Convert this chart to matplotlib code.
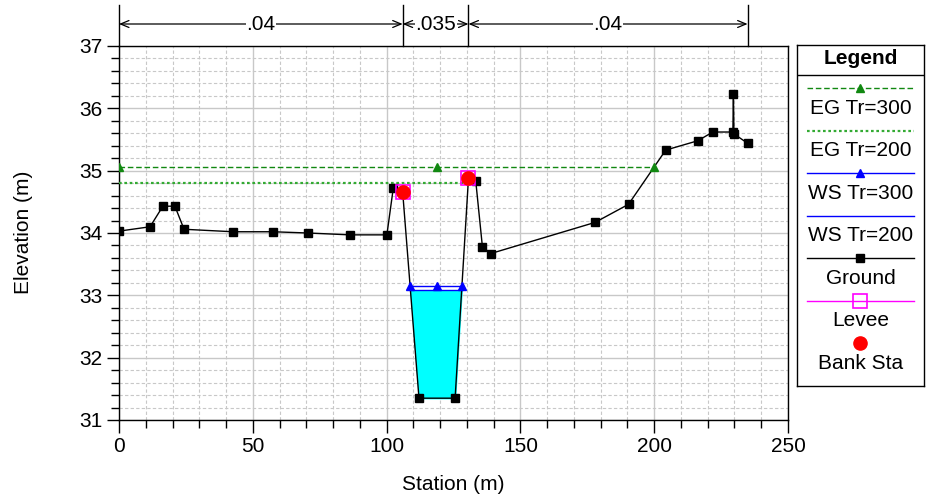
#!/usr/bin/env python3
"""Cross section plot: ground, levees, bank stations, WS / EG profiles."""

import numpy as np
import matplotlib

matplotlib.use("Agg")
import matplotlib.pyplot as plt
from matplotlib.ticker import MultipleLocator
from matplotlib.transforms import blended_transform_factory

plt.rcParams["font.family"] = ["Liberation Sans", "DejaVu Sans"]

# --- data ---------------------------------------------------------------
ground_sta  = [0.0, 11.6, 16.4, 20.9, 24.3, 42.6, 57.5, 70.6, 86.3, 100.1,
               102.5, 106.0, 112.1, 125.6, 130.6, 133.3, 135.8, 138.9,
               177.9, 190.4, 204.3, 216.3, 221.9, 229.4, 229.6, 229.8, 234.9]
ground_elev = [34.03, 34.10, 34.43, 34.43, 34.06, 34.02, 34.02, 34.00, 33.97,
               33.97, 34.72, 34.66, 31.35, 31.35, 34.88, 34.84, 33.78, 33.67,
               34.17, 34.46, 35.33, 35.48, 35.62, 35.62, 36.23, 35.59, 35.44]

bank_sta    = [106.0, 130.6]
bank_elev   = [34.66, 34.88]
levee_sta   = [106.0, 130.6]
levee_elev  = [34.66, 34.88]

ws_300 = 33.15
ws_200 = 33.08
eg_300 = 35.06
eg_200 = 34.80
mid_sta = 119.0          # profile marker station in main channel

n_values = [".04", ".035", ".04"]

FS = 15

# --- helpers --------------------------------------------------------------
gx = np.array(ground_sta)
gy = np.array(ground_elev)


def wet_limits(level, start=mid_sta):
    """Stations where ground rises above `level` left/right of `start`."""
    i = np.searchsorted(gx, start)
    left, right = gx[0], gx[-1]
    for j in range(i - 1, 0, -1):
        if gy[j - 1] >= level > gy[j] or gy[j - 1] > level >= gy[j]:
            left = gx[j - 1] + (level - gy[j - 1]) / (gy[j] - gy[j - 1]) * (gx[j] - gx[j - 1])
            break
    for j in range(i, len(gx)):
        if gy[j - 1] < level <= gy[j]:
            right = gx[j - 1] + (level - gy[j - 1]) / (gy[j] - gy[j - 1]) * (gx[j] - gx[j - 1])
            break
    return left, right


fig = plt.figure(figsize=(9.28, 4.99), dpi=100)
ax = fig.add_axes([119 / 928, 79 / 499, 669 / 928, 374 / 499])

# grid
ax.set_xlim(0, 250)
ax.set_ylim(31, 37)
ax.xaxis.set_major_locator(MultipleLocator(50))
ax.xaxis.set_minor_locator(MultipleLocator(10))
ax.yaxis.set_major_locator(MultipleLocator(1))
ax.yaxis.set_minor_locator(MultipleLocator(0.2))
ax.grid(which="major", color="#c8c8c8", lw=1.0, ls="-")
ax.grid(which="minor", color="#c8c8c8", lw=0.8, ls=(0, (3, 2)))
ax.set_axisbelow(True)
ax.tick_params(which="major", direction="out", length=9, width=1, labelsize=FS, pad=3)
ax.tick_params(which="minor", direction="out", length=6, width=1)
ax.tick_params(top=False, right=False, which="both")

# water fill under WS Tr=200
xl, xr = wet_limits(ws_200)
xs = np.linspace(xl, xr, 2000)
ys = np.interp(xs, gx, gy)
ax.fill_between(xs, ys, ws_200, where=ys <= ws_200, color="#00ffff", zorder=2)

# energy grade lines
l3, r3 = wet_limits(eg_300)
ax.plot([l3, r3], [eg_300, eg_300], color="#118811", lw=1.0, ls=(0, (4, 2)), zorder=3)
ax.plot([l3, mid_sta, r3], [eg_300] * 3, ls="none", marker="^", ms=6,
        color="#118811", zorder=6)
l2, r2 = wet_limits(eg_200)
ax.plot([l2, r2], [eg_200, eg_200], color="#33aa33", lw=1.6, ls=(0, (1.2, 1.2)), zorder=3)

# water surfaces
l3, r3 = wet_limits(ws_300)
ax.plot([l3, r3], [ws_300, ws_300], color="#0000ff", lw=1.0, zorder=4)
ax.plot([l3, mid_sta, r3], [ws_300] * 3, ls="none", marker="^", ms=6,
        color="#0000ff", zorder=6)
ax.plot([xl, xr], [ws_200, ws_200], color="#0000ff", lw=1.0, zorder=4)

# ground, levees, bank stations
ax.plot(ground_sta, ground_elev, color="black", lw=1.0, marker="s", ms=5.3,
        zorder=5)
ax.plot(levee_sta, levee_elev, ls="none", marker="s", ms=10, mfc="none",
        mec="#ff00ff", mew=1.2, zorder=6)
ax.plot(bank_sta, bank_elev, ls="none", marker="o", ms=9.5, color="#ff0000",
        zorder=7)

for s in ax.spines.values():
    s.set_linewidth(1.0)

fig.text(24 / 928, 1 - 232 / 499, "Elevation (m)", rotation=90,
         ha="center", va="center", fontsize=FS)
fig.text(453.5 / 928, 1 - 485 / 499, "Station (m)", ha="center", va="center",
         fontsize=FS)

# Manning's n breaks above the plot
breaks = [ground_sta[0], bank_sta[0], bank_sta[1], ground_sta[-1]]
tr = blended_transform_factory(ax.transData, ax.transAxes)
for b in breaks:
    ax.plot([b, b], [1.0, 1.11], color="black", lw=1.0, transform=tr, clip_on=False)
y_arr = 1 + 22 / 374
for a, b, n in zip(breaks[:-1], breaks[1:], n_values):
    ax.annotate("", xy=(a, y_arr), xytext=(b, y_arr), xycoords=tr, textcoords=tr,
                arrowprops=dict(arrowstyle="<->,head_length=0.6,head_width=0.25",
                                color="black", lw=0.9, shrinkA=0, shrinkB=0))
    ax.text((a + b) / 2, y_arr, n, transform=tr, ha="center", va="center",
            fontsize=FS, bbox=dict(fc="white", ec="none", pad=0.5), zorder=10)

# legend panel
lg = fig.add_axes([797 / 928, 113 / 499, 127 / 928, 341 / 499])
lg.set_xlim(0, 127)
lg.set_ylim(341, 0)
lg.set_xticks([])
lg.set_yticks([])
for s in lg.spines.values():
    s.set_linewidth(1.0)
lg.text(63.5, 14, "Legend", ha="center", va="center", fontsize=FS, fontweight="bold")
lg.plot([0, 127], [30, 30], color="black", lw=1.0)

entries = [
    ("EG Tr=300", dict(color="#118811", lw=1.0, ls=(0, (4, 2))), dict(marker="^", ms=6, color="#118811")),
    ("EG Tr=200", dict(color="#33aa33", lw=1.6, ls=(0, (1.2, 1.2))), None),
    ("WS Tr=300", dict(color="#0000ff", lw=1.0), dict(marker="^", ms=6, color="#0000ff")),
    ("WS Tr=200", dict(color="#0000ff", lw=1.0), None),
    ("Ground", dict(color="black", lw=1.0), dict(marker="s", ms=5.3, color="black")),
    ("Levee", dict(color="#ff00ff", lw=1.0), dict(marker="s", ms=10, mfc="none", mec="#ff00ff", mew=1.2)),
    ("Bank Sta", None, dict(marker="o", ms=9.5, color="#ff0000")),
]
for k, (label, line_kw, mark_kw) in enumerate(entries):
    yl = 43.3 + 42.5 * k
    if line_kw:
        lg.plot([10, 117], [yl, yl], **line_kw)
    if mark_kw:
        lg.plot([63.5], [yl], ls="none", **mark_kw)
    lg.text(63.5, yl + 20, label, ha="center", va="center", fontsize=FS)

fig.savefig("out.png", dpi=100)
